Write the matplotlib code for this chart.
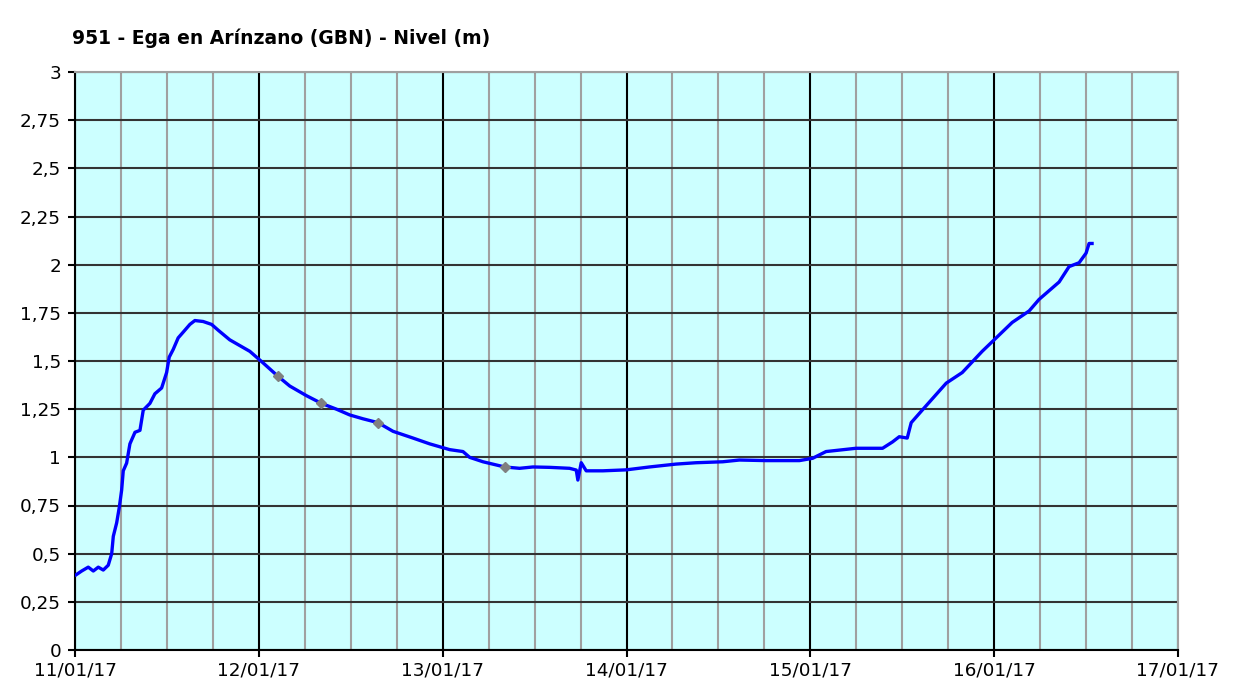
import matplotlib
matplotlib.use('Agg')
import pandas as pd
import matplotlib.pyplot as plt
import matplotlib.dates as mdates
from matplotlib.ticker import MultipleLocator, FuncFormatter

# horas desde 11/01/17 00:00 y nivel (m)
hours = [0.13, 0.87, 1.73, 2.39, 3.04, 3.69, 4.34, 4.79, 5.0, 5.44, 5.78, 6.09, 6.30,
         6.74, 7.17, 7.83, 8.48, 8.91, 9.78, 10.43, 11.31, 11.96, 12.30, 12.82, 13.47,
         14.13, 15.0, 15.65, 16.73, 17.83, 18.69, 20.2, 22.83, 24.56, 26.52, 28.04,
         30.22, 32.18, 34.13, 35.87, 37.6, 39.56, 41.52, 44.13, 46.3, 48.91, 50.65,
         51.52, 53.26, 56.09, 58.04, 59.78, 61.96, 64.57, 65.44, 65.65, 66.09, 66.74,
         68.91, 71.96, 75.0, 78.48, 81.09, 84.57, 86.74, 90.22, 94.57, 96.3, 98.05,
         101.96, 105.43, 106.73, 107.61, 108.65, 109.17, 110.61, 113.74, 115.83,
         118.43, 119.74, 122.35, 124.57, 125.87, 128.48, 129.78, 131.09, 132.0,
         132.39, 132.78]
nivel = [0.39, 0.41, 0.43, 0.41, 0.43, 0.415, 0.44, 0.50, 0.59, 0.66, 0.74, 0.83, 0.93,
         0.97, 1.07, 1.13, 1.14, 1.245, 1.28, 1.33, 1.36, 1.44, 1.52, 1.56, 1.62,
         1.65, 1.69, 1.71, 1.705, 1.69, 1.66, 1.61, 1.55, 1.49, 1.42, 1.37,
         1.32, 1.28, 1.25, 1.22, 1.20, 1.18, 1.135, 1.10, 1.07, 1.04, 1.03,
         1.0, 0.977, 0.95, 0.943, 0.95, 0.948, 0.943, 0.934, 0.882, 0.972, 0.93,
         0.93, 0.935, 0.95, 0.965, 0.972, 0.977, 0.986, 0.983, 0.983, 0.995, 1.03,
         1.047, 1.047, 1.08, 1.107, 1.10, 1.18, 1.245, 1.385, 1.44,
         1.55, 1.60, 1.70, 1.76, 1.82, 1.91, 1.99, 2.01, 2.06,
         2.11, 2.11]

# puntos marcados en gris
mark_hours = [26.52, 32.18, 39.56, 56.09]
mark_nivel = [1.42, 1.28, 1.18, 0.95]

title = '951 - Ega en Arínzano (GBN) - Nivel (m)'

t0 = pd.Timestamp('2017-01-11')
t = t0 + pd.to_timedelta(hours, unit='h')
tm = t0 + pd.to_timedelta(mark_hours, unit='h')

fig = plt.figure(figsize=(12.38, 6.88), dpi=100)
ax = fig.add_axes([75/1238, 38/688, 1103/1238, 578/688])
ax.set_facecolor('#ccffff')
ax.set_axisbelow(True)

ax.plot(t, nivel, color='#0000ff', lw=2.4, zorder=3)
ax.plot(tm, mark_nivel, 'D', color='#808080', ms=5, zorder=4)

ax.set_xlim(t0, t0 + pd.Timedelta(days=6))
ax.set_ylim(0, 3)
ax.xaxis.set_major_locator(mdates.DayLocator())
ax.xaxis.set_minor_locator(mdates.HourLocator(byhour=[6, 12, 18]))
ax.xaxis.set_major_formatter(mdates.DateFormatter('%d/%m/%y'))
ax.yaxis.set_major_locator(MultipleLocator(0.25))
ax.yaxis.set_major_formatter(FuncFormatter(lambda v, p: f'{v:g}'.replace('.', ',')))

ax.grid(which='major', axis='x', color='black', lw=1.5)
ax.grid(which='minor', axis='x', color='#a0a0a0', lw=1.5)
ax.grid(which='major', axis='y', color='#333333', lw=1.5)
ax.tick_params(which='minor', length=0)
ax.tick_params(which='major', length=5, width=1.5, labelsize=13.2, color='black')
ax.tick_params(axis='x', pad=3.5)
ax.tick_params(axis='y', pad=5)

for s in ['left', 'bottom']:
    ax.spines[s].set_color('black')
    ax.spines[s].set_linewidth(1.5)
for s in ['top', 'right']:
    ax.spines[s].set_color('#a0a0a0')
    ax.spines[s].set_linewidth(1.5)

fig.text(72/1238, 1 - 38/688, title, fontsize=13.5, fontweight='bold', va='center', ha='left')

fig.savefig('out.png', dpi=100)
